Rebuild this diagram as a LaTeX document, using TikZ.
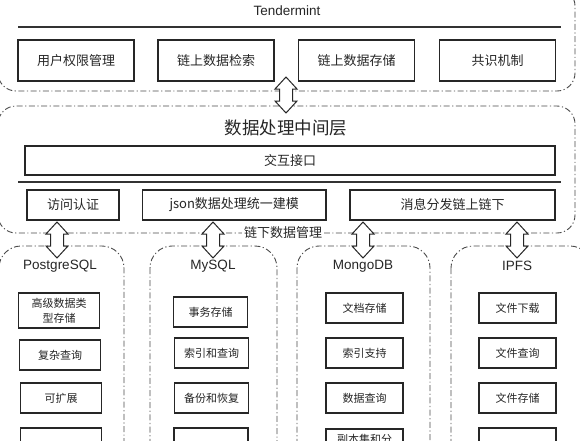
\documentclass[tikz,border=0pt]{standalone}
\usepackage{fontspec}
\setmainfont{Liberation Sans}
\newfontfamily\cjk{Noto Sans CJK SC}
\usetikzlibrary{calc}
\tikzset{
  container/.style={draw=black!70, line width=0.9pt, dash pattern=on 6pt off 2.5pt on 1.2pt off 2.5pt, rounded corners=18pt},
  box/.style={draw=black!85, line width=1.1pt, fill=white, inner sep=0pt, text=black!85, font=\cjk\fontsize{13}{15}\selectfont},
  sbox/.style={box, align=center, font=\cjk\fontsize{11}{15}\selectfont},
  ttl/.style={text=black!85, inner sep=1pt, font=\fontsize{13.5}{16}\selectfont},
  sep/.style={draw=black!80, line width=1.1pt},
  darr/.style={draw=black!85, line width=1pt, fill=white, line join=miter},
}
% double arrow: centre x, top y, bottom y (y grows downwards)
\newcommand\mydarrow[3]{%
  \draw[darr] (#1,#2) -- (#1+11,#2+12) -- (#1+6.5,#2+12) -- (#1+6.5,#3-12)
    -- (#1+11,#3-12) -- (#1,#3) -- (#1-11,#3-12) -- (#1-6.5,#3-12)
    -- (#1-6.5,#2+12) -- (#1-11,#2+12) -- cycle;}
\begin{document}
\begin{tikzpicture}[x=1pt,y=-1pt]
\useasboundingbox (0,0) rectangle (580,440);
\clip (0,0) rectangle (580,440);
\fill[white] (0,0) rectangle (580,440);

% ---------- Tendermint layer ----------
\draw[container] (-2,-12) rectangle (575,91);
\node[ttl] (tm) at (287,11) {Tendermint};
\draw[sep] (18,27) -- (561,27);
\node[box, minimum width=116pt, minimum height=41pt] (t1) at (76,60.5) {用户权限管理};
\node[box, minimum width=116pt, minimum height=41pt] (t2) at (216,60.5) {链上数据检索};
\node[box, minimum width=116pt, minimum height=41pt] (t3) at (356.5,60.5) {链上数据存储};
\node[box, minimum width=116pt, minimum height=41pt] (t4) at (497.5,60.5) {共识机制};

% ---------- middle layer ----------
\draw[container] (-2,106) rectangle (575,233);
\node[text=black!85, font=\cjk\fontsize{17.5}{20}\selectfont] (mid) at (286,128) {数据处理中间层};
\node[box, minimum width=530pt, minimum height=29pt] (api) at (290,160.5) {交互接口};
\draw[sep] (18,182) -- (561,182);
\node[box, minimum width=92pt, minimum height=30pt] (m1) at (73,205) {访问认证};
\node[box, minimum width=183.5pt, minimum height=30pt] (m2) at (234.25,205) {json数据处理统一建模};
\node[box, minimum width=205pt, minimum height=30pt] (m3) at (452.5,205) {消息分发链上链下};
\node[fill=white, inner sep=2pt, text=black!85, font=\cjk\fontsize{13}{15}\selectfont] (off) at (283,233) {链下数据管理};

% ---------- storage columns ----------
\draw[container, rounded corners=22pt] (-1,246) rectangle (124,480);
\draw[container, rounded corners=22pt] (150,246) rectangle (277,480);
\draw[container, rounded corners=22pt] (297,246) rectangle (430,480);
\draw[container, rounded corners=22pt] (451,246) rectangle (592,480);

\node[ttl] (pg) at (60,266) {PostgreSQL};
\node[ttl] (my) at (213,266) {MySQL};
\node[ttl] (mo) at (363,266) {MongoDB};
\node[ttl] (ip) at (517,266) {IPFS};

% PostgreSQL
\node[sbox, minimum width=81pt, minimum height=35pt] (pg1) at (59,310.5) {高级数据类\\型存储};
\node[sbox, minimum width=81pt, minimum height=30pt] (pg2) at (60,355) {复杂查询};
\node[sbox, minimum width=81pt, minimum height=30pt] (pg3) at (61,398) {可扩展};
\node[sbox, minimum width=81pt, minimum height=30pt] (pg4) at (61,443) {};
% MySQL
\node[sbox, minimum width=74pt, minimum height=30pt] (my1) at (210.5,312) {事务存储};
\node[sbox, minimum width=74pt, minimum height=30pt] (my2) at (211.5,353) {索引和查询};
\node[sbox, minimum width=74pt, minimum height=30pt] (my3) at (211.5,398) {备份和恢复};
\node[sbox, minimum width=74pt, minimum height=30pt] (my4) at (211,443) {};
% MongoDB
\node[sbox, minimum width=77pt, minimum height=30pt] (mo1) at (364.5,308) {文档存储};
\node[sbox, minimum width=77pt, minimum height=30pt] (mo2) at (364.5,353) {索引支持};
\node[sbox, minimum width=77pt, minimum height=30pt] (mo3) at (364.5,398) {数据查询};
\node[sbox, minimum width=77pt, minimum height=35pt] (mo4) at (364.5,446.5) {副本集和分\\片};
% IPFS
\node[sbox, minimum width=77pt, minimum height=30pt] (ip1) at (517.5,308) {文件下载};
\node[sbox, minimum width=77pt, minimum height=30pt] (ip2) at (517.5,353) {文件查询};
\node[sbox, minimum width=77pt, minimum height=30pt] (ip3) at (517.5,398) {文件存储};
\node[sbox, minimum width=77pt, minimum height=30pt] (ip4) at (517.5,443) {};

% ---------- double arrows ----------
\mydarrow{286}{77}{113}
\mydarrow{57}{222}{258}
\mydarrow{213}{222}{258}
\mydarrow{363}{222}{258}
\mydarrow{517}{222}{258}
\end{tikzpicture}
\end{document}
